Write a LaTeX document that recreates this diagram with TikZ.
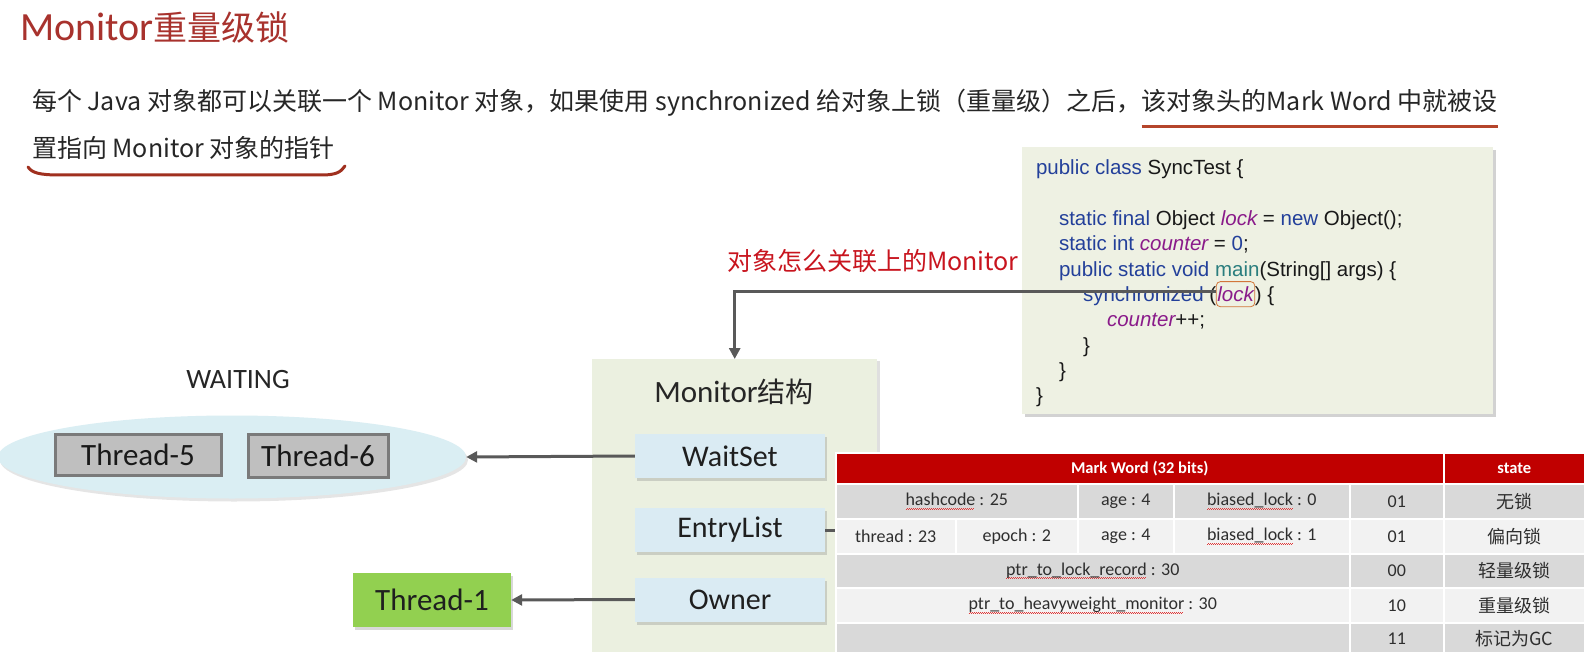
\documentclass[tikz,border=0pt]{standalone}
\usepackage{fontspec}
\setmainfont{Carlito}
\newfontfamily\cjk{Noto Sans CJK SC}
\newfontfamily\arial{Liberation Sans}
\usetikzlibrary{shadows,arrows.meta,shapes.geometric}

\definecolor{titlered}{HTML}{A8322D}
\definecolor{bodytxt}{HTML}{262626}
\definecolor{ulred}{HTML}{B5452B}
\definecolor{curvered}{HTML}{A0301F}
\definecolor{codebg}{HTML}{EEF1E3}
\definecolor{kwblue}{HTML}{23409A}
\definecolor{varpurple}{HTML}{8A1B8A}
\definecolor{mainteal}{HTML}{2B7E7E}
\definecolor{lockedge}{HTML}{D2763A}
\definecolor{lblred}{HTML}{C8141E}
\definecolor{arrowgray}{HTML}{595959}
\definecolor{monbg}{HTML}{EBF0E0}
\definecolor{slotbg}{HTML}{DAEBF3}
\definecolor{ellbg}{HTML}{DAEEF3}
\definecolor{thrgray}{HTML}{BFBFBF}
\definecolor{thrborder}{HTML}{7A7A7A}
\definecolor{thrgreen}{HTML}{92D050}
\definecolor{hdrred}{HTML}{C00000}
\definecolor{rowdark}{HTML}{D9D9D9}
\definecolor{rowlight}{HTML}{F2F2F2}
\definecolor{celltxt}{HTML}{2E2E2E}
\definecolor{squigred}{HTML}{E03A3A}

\newcommand\ulred[1]{\setbox0=\hbox{#1}\rlap{\color{ulred}\rule[-17pt]{\wd0}{3pt}}\box0\relax}
\newcommand\squig[1]{\setbox0=\hbox{#1}\rlap{\color{squigred}\raisebox{-3pt}{\hbox to \wd0{\leaders\hbox to 2pt{\vrule width 1pt height 0pt depth 0.7pt\vrule width 1pt height 0.7pt depth 0pt}\hfill}}}\box0\relax}
\newcommand\ckw[1]{{\color{kwblue}#1}}
\newcommand\cvar[1]{{\color{varpurple}\itshape #1}}
\newcommand\cmain[1]{{\color{mainteal}#1}}

\tikzset{
  txt/.style={inner sep=0pt, outer sep=0pt},
  conn/.style={draw=arrowgray, line width=3pt, -{Triangle[length=11pt,width=11pt]}},
  codeln/.style={txt, anchor=base west, font=\arial\fontsize{20.5}{24}\selectfont, text=black!90},
  slot/.style={fill=slotbg, minimum width=190pt, minimum height=44pt, inner sep=0pt,
    font=\fontsize{30}{34}\selectfont, text=black!88,
    drop shadow={shadow xshift=2pt, shadow yshift=-3pt, opacity=0.3}},
  thrbox/.style={fill=thrgray, draw=thrborder, line width=3pt, inner sep=0pt,
    font=\fontsize{31}{34}\selectfont, text=black!90},
  cell/.style={draw=white, line width=1.5pt, anchor=north west, inner sep=0pt,
    font=\fontsize{18}{22}\selectfont, text=celltxt},
  hdr/.style={cell, fill=hdrred, text=white, font=\bfseries\fontsize{16.5}{20}\selectfont},
  st/.style={cell, font=\cjk\fontsize{18}{22}\selectfont}
}

\begin{document}
\begin{tikzpicture}[x=1pt,y=-1pt]
\useasboundingbox (0,0) rectangle (1584,652);
\fill[white] (0,0) rectangle (1584,652);

% title
\node[txt, anchor=base west, text=titlered] (title) at (20,41)
  {{\fontsize{40}{48}\selectfont Monitor}{\cjk\fontsize{34}{40}\selectfont 重量级锁}};

% description
\node[txt, anchor=base west, text=bodytxt, font=\cjk\fontsize{25}{28}\selectfont] (line1) at (32,111)
  {每个 Java 对象都可以关联一个 Monitor 对象，如果使用 synchronized 给对象上锁（重量级）之后，\ulred{该对象头的Mark Word 中就被设}};
\node[txt, anchor=base west, text=bodytxt, font=\cjk\fontsize{25}{28}\selectfont] (line2) at (32,158)
  {置指向 Monitor 对象的指针};
\draw[curvered, line width=3pt, line cap=round]
  (28,167) .. controls (32,173) and (40,175) .. (60,175) -- (322,175)
  .. controls (336,175) and (341,172) .. (345,166);

% code box
\node[fill=codebg, minimum width=471pt, minimum height=267pt, anchor=north west, inner sep=0pt,
  drop shadow={shadow xshift=3pt, shadow yshift=-3pt, opacity=0.35}] (code) at (1022,147) {};
\node[codeln] (c1) at (1036,175) {\ckw{public class} SyncTest \{};
\node[codeln] (c2) at (1059,225.6) {\ckw{static final} Object \cvar{lock} = \ckw{new} Object();};
\node[codeln] (c3) at (1059,250.9) {\ckw{static int} \cvar{counter} = \ckw{0};};
\node[codeln] (c4) at (1059,276.2) {\ckw{public static void} \cmain{main}(String[] args) \{};
\node[codeln] (c5a) at (1083,301.5) {\ckw{synchronized} (};
\node[codeln, draw=lockedge, line width=0.8pt, rounded corners=4pt, inner xsep=1pt, inner ysep=5pt] (lk) at (c5a.base east) {\cvar{lock}};
\node[codeln] (c5b) at (lk.base east) {) \{};
\node[codeln] (c6) at (1107,326.8) {\cvar{counter}++;};
\node[codeln] (c7) at (1083,352.1) {\}};
\node[codeln] (c8) at (1059,377.4) {\}};
\node[codeln] (c9) at (1036,402.7) {\}};

% label
\node[txt, anchor=base west, text=lblred, font=\cjk\fontsize{25}{30}\selectfont] (lbl) at (727,271)
  {对象怎么关联上的Monitor};

% monitor structure
\node[fill=monbg, minimum width=285pt, minimum height=300pt, anchor=north west, inner sep=0pt,
  drop shadow={shadow xshift=3pt, shadow yshift=-2pt, opacity=0.25}] (mon) at (592,359) {};
\node[txt, anchor=base, text=black!85] (montitle) at (734,402)
  {{\fontsize{31}{36}\selectfont Monitor}{\cjk\fontsize{28}{32}\selectfont 结构}};
\node[slot] (ws) at (730,456) {WaitSet};
\node[slot] (el) at (730,530) {EntryList};
\node[slot] (ow) at (730,599.5) {Owner};

\draw[conn] ([yshift=3pt]lk.west) -| (mon.north);

% waiting set
\node[txt, anchor=base, text=black!85, font=\fontsize{28}{32}\selectfont] (waiting) at (238,388) {WAITING};
\node[ellipse, fill=ellbg, minimum width=468pt, minimum height=83pt, inner sep=0pt,
  drop shadow={shadow xshift=2pt, shadow yshift=-3pt, opacity=0.2}] (ell) at (232,457) {};
\node[thrbox, minimum width=166pt, minimum height=41pt] (t5) at (138,454.5) {Thread-5};
\node[thrbox, minimum width=140pt, minimum height=43pt] (t6) at (318,455.5) {Thread-6};
\node[fill=thrgreen, minimum width=158pt, minimum height=54pt, inner sep=0pt,
  font=\fontsize{31}{34}\selectfont, text=black!88,
  drop shadow={shadow xshift=2pt, shadow yshift=-3pt, opacity=0.3}] (t1) at (432,600) {Thread-1};

\draw[conn] (ws.west) -- (ell.east);
\draw[conn] (ow.west) -- (t1.east);

% table
\node[hdr, minimum width=608pt, minimum height=31pt] (hmw) at (835,452) {Mark Word (32 bits)};
\node[hdr, minimum width=141pt, minimum height=31pt] (hst) at (1443,452) {state};

\node[cell, fill=rowdark, minimum width=242pt, minimum height=35pt] (r1a) at (835,483) {\squig{hashcode} : 25};
\node[cell, fill=rowdark, minimum width=96pt, minimum height=35pt] (r1b) at (1077,483) {age : 4};
\node[cell, fill=rowdark, minimum width=176pt, minimum height=35pt] (r1c) at (1173,483) {\squig{biased\_lock} : 0};
\node[cell, fill=rowdark, minimum width=94pt, minimum height=35pt] (r1d) at (1349,483) {01};
\node[st, fill=rowdark, minimum width=141pt, minimum height=35pt] (r1e) at (1443,483) {无锁};

\node[cell, fill=rowlight, minimum width=120pt, minimum height=35pt] (r2a) at (835,518) {thread : 23};
\node[cell, fill=rowlight, minimum width=122pt, minimum height=35pt] (r2b) at (955,518) {epoch : 2};
\node[cell, fill=rowlight, minimum width=96pt, minimum height=35pt] (r2c) at (1077,518) {age : 4};
\node[cell, fill=rowlight, minimum width=176pt, minimum height=35pt] (r2d) at (1173,518) {\squig{biased\_lock} : 1};
\node[cell, fill=rowlight, minimum width=94pt, minimum height=35pt] (r2e) at (1349,518) {01};
\node[st, fill=rowlight, minimum width=141pt, minimum height=35pt] (r2f) at (1443,518) {偏向锁};

\node[cell, fill=rowdark, minimum width=514pt, minimum height=34pt] (r3a) at (835,553) {\squig{ptr\_to\_lock\_record} : 30};
\node[cell, fill=rowdark, minimum width=94pt, minimum height=34pt] (r3b) at (1349,553) {00};
\node[st, fill=rowdark, minimum width=141pt, minimum height=34pt] (r3c) at (1443,553) {轻量级锁};

\node[cell, fill=rowlight, minimum width=514pt, minimum height=35pt] (r4a) at (835,587) {\squig{ptr\_to\_heavyweight\_monitor} : 30};
\node[cell, fill=rowlight, minimum width=94pt, minimum height=35pt] (r4b) at (1349,587) {10};
\node[st, fill=rowlight, minimum width=141pt, minimum height=35pt] (r4c) at (1443,587) {重量级锁};

\node[cell, fill=rowdark, minimum width=514pt, minimum height=32pt] (r5a) at (835,622) {};
\node[cell, fill=rowdark, minimum width=94pt, minimum height=32pt] (r5b) at (1349,622) {11};
\node[st, fill=rowdark, minimum width=141pt, minimum height=32pt] (r5c) at (1443,622) {标记为GC};

\draw[arrowgray, line width=3pt] (el.east) -- (el.east -| r2a.west);
\end{tikzpicture}
\end{document}
